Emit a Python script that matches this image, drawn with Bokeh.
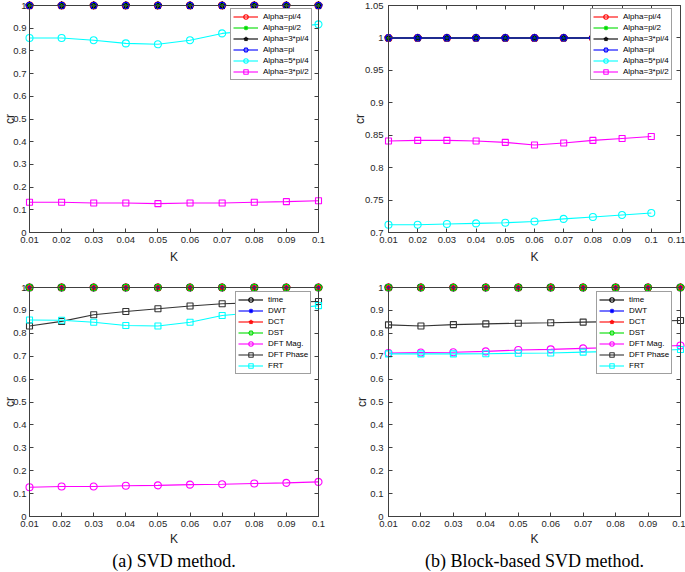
import math
from bokeh.plotting import figure
from bokeh.models import (Range1d, LinearAxis, FixedTicker, CustomJSTickFormatter,
                          Legend, LegendItem, Title)
from bokeh.layouts import column, row
from bokeh.embed import file_html
from bokeh.resources import INLINE

# ---------------- data ----------------
K = [0.01, 0.02, 0.03, 0.04, 0.05, 0.06, 0.07, 0.08, 0.09, 0.10]

# (a) SVD method - alpha values
svd_alpha_pi4 = [1.0, 1.0, 1.0, 1.0, 1.0, 1.0, 1.0, 1.0, 1.0, 1.0]
svd_alpha_pi2 = [1.0, 1.0, 1.0, 1.0, 1.0, 1.0, 1.0, 1.0, 1.0, 1.0]
svd_alpha_3pi4 = [1.0, 1.0, 1.0, 1.0, 1.0, 1.0, 1.0, 1.0, 1.0, 1.0]
svd_alpha_pi = [1.0, 1.0, 1.0, 1.0, 1.0, 1.0, 1.0, 1.0, 1.0, 1.0]
svd_alpha_5pi4 = [0.857, 0.857, 0.847, 0.833, 0.829, 0.847, 0.877, 0.890, 0.904, 0.917]
svd_alpha_3pi2 = [0.133, 0.133, 0.130, 0.130, 0.127, 0.130, 0.130, 0.133, 0.136, 0.140]

# (b) Block-based SVD method - alpha values
blk_alpha_pi4 = [1.0, 1.0, 1.0, 1.0, 1.0, 1.0, 1.0, 1.0, 1.0, 1.0]
blk_alpha_pi2 = [1.0, 1.0, 1.0, 1.0, 1.0, 1.0, 1.0, 1.0, 1.0, 1.0]
blk_alpha_3pi4 = [1.0, 1.0, 1.0, 1.0, 1.0, 1.0, 1.0, 1.0, 1.0, 1.0]
blk_alpha_pi = [1.0, 1.0, 1.0, 1.0, 1.0, 1.0, 1.0, 1.0, 1.0, 1.0]
blk_alpha_5pi4 = [0.712, 0.712, 0.713, 0.714, 0.715, 0.717, 0.721, 0.724, 0.727, 0.730]
blk_alpha_3pi2 = [0.841, 0.842, 0.842, 0.841, 0.839, 0.835, 0.838, 0.842, 0.845, 0.848]

# (a) SVD method - transforms
svd_time = [1.0, 1.0, 1.0, 1.0, 1.0, 1.0, 1.0, 1.0, 1.0, 1.0]
svd_dwt = [1.0, 1.0, 1.0, 1.0, 1.0, 1.0, 1.0, 1.0, 1.0, 1.0]
svd_dct = [1.0, 1.0, 1.0, 1.0, 1.0, 1.0, 1.0, 1.0, 1.0, 1.0]
svd_dst = [1.0, 1.0, 1.0, 1.0, 1.0, 1.0, 1.0, 1.0, 1.0, 1.0]
svd_dft_mag = [0.128, 0.131, 0.131, 0.134, 0.136, 0.139, 0.141, 0.144, 0.147, 0.151]
svd_dft_phase = [0.832, 0.852, 0.881, 0.895, 0.907, 0.919, 0.929, 0.933, 0.936, 0.939]
svd_frt = [0.858, 0.857, 0.848, 0.834, 0.832, 0.848, 0.878, 0.890, 0.905, 0.921]

# (b) Block-based SVD method - transforms
blk_time = [1.0, 1.0, 1.0, 1.0, 1.0, 1.0, 1.0, 1.0, 1.0, 1.0]
blk_dwt = [1.0, 1.0, 1.0, 1.0, 1.0, 1.0, 1.0, 1.0, 1.0, 1.0]
blk_dct = [1.0, 1.0, 1.0, 1.0, 1.0, 1.0, 1.0, 1.0, 1.0, 1.0]
blk_dst = [1.0, 1.0, 1.0, 1.0, 1.0, 1.0, 1.0, 1.0, 1.0, 1.0]
blk_dft_mag = [0.714, 0.716, 0.717, 0.721, 0.727, 0.730, 0.734, 0.738, 0.742, 0.747]
blk_dft_phase = [0.837, 0.832, 0.838, 0.841, 0.844, 0.846, 0.849, 0.851, 0.853, 0.856]
blk_frt = [0.710, 0.710, 0.710, 0.711, 0.713, 0.714, 0.718, 0.721, 0.724, 0.729]

alpha_labels = ["Alpha=pi/4", "Alpha=pi/2", "Alpha=3*pi/4", "Alpha=pi",
                "Alpha=5*pi/4", "Alpha=3*pi/2"]
transform_labels = ["time", "DWT", "DCT", "DST", "DFT Mag.", "DFT Phase", "FRT"]

x_ticks_a = [0.01, 0.02, 0.03, 0.04, 0.05, 0.06, 0.07, 0.08, 0.09, 0.1]
x_ticks_b = [0.01, 0.02, 0.03, 0.04, 0.05, 0.06, 0.07, 0.08, 0.09, 0.1, 0.11]
y_ticks_full = [0, 0.1, 0.2, 0.3, 0.4, 0.5, 0.6, 0.7, 0.8, 0.9, 1]
y_ticks_blk = [0.7, 0.75, 0.8, 0.85, 0.9, 0.95, 1, 1.05]

x_label = "K"
y_label = "cr"
captions = ["(a) SVD method.", "(b) Block-based SVD method."]

# ---------------- styles ----------------
AX = "#404040"
TXT = "#262626"
SANS = "Liberation Sans"
SERIF = "Liberation Serif"

alpha_styles = [("red", "circle", 7), ("#00dd00", "asterisk", 7), ("black", "star", 8),
                ("blue", "hex", 7), ("cyan", "circle", 7), ("magenta", "square", 6)]
transform_styles = [("black", "circle", 7), ("blue", "asterisk", 7), ("red", "star", 8),
                    ("#00dd00", "hex", 7), ("magenta", "circle", 7), ("#333333", "square", 6),
                    ("cyan", "square", 6)]

FMT = "return String(parseFloat(tick.toFixed(3)));"


def make_fig(width, height, borders, xr, yr, xt, yt, ylab_standoff, ytick_standoff, xlab_standoff):
    mbl, mbr, mbt, mbb = borders
    p = figure(width=width, height=height, x_range=Range1d(*xr), y_range=Range1d(*yr),
               output_backend="svg", toolbar_location=None, tools="",
               min_border_left=mbl, min_border_right=mbr,
               min_border_top=mbt, min_border_bottom=mbb)
    p.grid.visible = False
    p.outline_line_color = AX
    p.outline_line_width = 1
    p.background_fill_color = "white"
    p.border_fill_color = "white"
    xa = p.xaxis[0]
    xa.ticker = FixedTicker(ticks=xt)
    xa.formatter = CustomJSTickFormatter(code=FMT)
    xa.major_label_standoff = 4
    xa.axis_label = x_label
    xa.axis_label_standoff = xlab_standoff
    ya = p.yaxis[0]
    ya.ticker = FixedTicker(ticks=yt)
    ya.formatter = CustomJSTickFormatter(code=FMT)
    ya.major_label_standoff = ytick_standoff
    ya.axis_label = y_label
    ya.axis_label_standoff = ylab_standoff
    for ax in (xa, ya):
        ax.major_tick_in = 4
        ax.major_tick_out = 0
        ax.minor_tick_line_color = None
        ax.axis_line_color = AX
        ax.major_tick_line_color = AX
        ax.major_label_text_font = SANS
        ax.major_label_text_font_size = "9.5px"
        ax.major_label_text_color = TXT
        ax.axis_label_text_font = SANS
        ax.axis_label_text_font_size = "12px"
        ax.axis_label_text_font_style = "normal"
        ax.axis_label_text_color = TXT
    empty = "return '';"
    top = LinearAxis(ticker=FixedTicker(ticks=xt), formatter=CustomJSTickFormatter(code=empty),
                     major_label_text_font_size="0px", major_label_standoff=0,
                     major_tick_in=4, major_tick_out=0, minor_tick_line_color=None,
                     axis_line_color=AX, major_tick_line_color=AX)
    right = LinearAxis(ticker=FixedTicker(ticks=yt), formatter=CustomJSTickFormatter(code=empty),
                       major_label_text_font_size="0px", major_label_standoff=0,
                       major_tick_in=4, major_tick_out=0, minor_tick_line_color=None,
                       axis_line_color=AX, major_tick_line_color=AX)
    p.add_layout(top, "above")
    p.add_layout(right, "right")
    return p


def add_series(p, labels, series, styles, loc):
    items = []
    for lab, ys, (col, mk, sz) in zip(labels, series, styles):
        lr = p.line(K, ys, line_color=col, line_width=1.1, level="guide")
        sr = p.scatter(K, ys, marker=mk, size=sz, line_color=col, fill_color=None,
                       line_width=1.1, level="guide")
        items.append(LegendItem(label=lab, renderers=[lr, sr]))
    leg = Legend(items=items, location=loc, label_text_font=SANS,
                 label_text_font_size="8px", label_text_color="black",
                 glyph_width=25, glyph_height=11, label_height=11, label_standoff=5,
                 spacing=0, padding=2, margin=0, border_line_color=AX,
                 border_line_width=1, background_fill_color="white",
                 background_fill_alpha=1.0)
    p.add_layout(leg)


def add_caption(p, text):
    p.add_layout(Title(text=text, align="center", text_font=SERIF, text_font_size="18px",
                       text_font_style="normal", text_color="black", standoff=1),
                 "below")


# ---------------- figures ----------------
xr_a = (0.01, 0.1)
xr_b = (0.01, 0.11)
yr_full = (0, 1)
yr_blk = (0.7, 1.05)

p1 = make_fig(340, 270, (28, 22, 4, 38), xr_a, yr_full, x_ticks_a, y_ticks_full, -7, 3, 4)
add_series(p1, alpha_labels,
           [svd_alpha_pi4, svd_alpha_pi2, svd_alpha_3pi4, svd_alpha_pi, svd_alpha_5pi4, svd_alpha_3pi2],
           alpha_styles, (201, 152))

p2 = make_fig(345, 270, (48, 5, 5, 38), xr_b, yr_blk, x_ticks_b, y_ticks_blk, -5, 5, 4)
add_series(p2, alpha_labels,
           [blk_alpha_pi4, blk_alpha_pi2, blk_alpha_3pi4, blk_alpha_pi, blk_alpha_5pi4, blk_alpha_3pi2],
           alpha_styles, (202, 152))

p3 = make_fig(340, 302, (28, 22, 17, 56), xr_a, yr_full, x_ticks_a, y_ticks_full, -7, 3, 2)
add_series(p3, transform_labels,
           [svd_time, svd_dwt, svd_dct, svd_dst, svd_dft_mag, svd_dft_phase, svd_frt],
           transform_styles, (206, 142))
add_caption(p3, captions[0])

p4 = make_fig(345, 302, (48, 5, 17, 56), xr_a, yr_full, x_ticks_a, y_ticks_full, -2, 5, 2)
add_series(p4, transform_labels,
           [blk_time, blk_dwt, blk_dct, blk_dst, blk_dft_mag, blk_dft_phase, blk_frt],
           transform_styles, (208, 142))
add_caption(p4, captions[1])

layout = column(row(p1, p2), row(p3, p4))

open("out.html", "w").write(file_html(layout, INLINE))
